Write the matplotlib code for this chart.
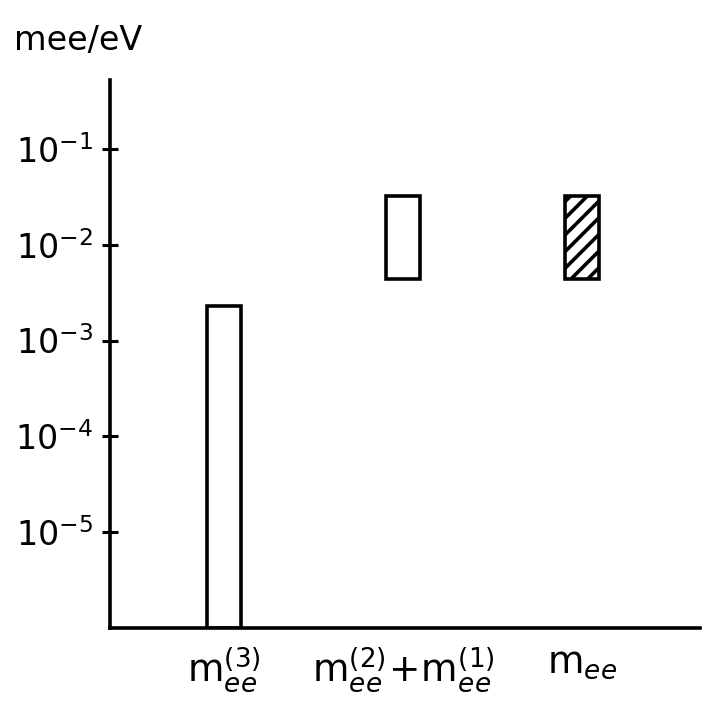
import numpy as np
import matplotlib.pyplot as plt

# effective Majorana mass ranges (eV), log scale
labels = [r'$\mathrm{m}_{ee}^{(3)}$', r'$\mathrm{m}_{ee}^{(2)}\!+\!\mathrm{m}_{ee}^{(1)}$', r'$\mathrm{m}_{ee}$']
bar_low = [1e-6, 4.4e-3, 4.4e-3]
bar_high = [2.3e-3, 3.2e-2, 3.2e-2]
hatches = ['', '', '//']
ytick_vals = [1e-1, 1e-2, 1e-3, 1e-4, 1e-5]
ytick_labels = [r'$10^{-1}$', r'$10^{-2}$', r'$10^{-3}$', r'$10^{-4}$', r'$10^{-5}$']

plt.rcParams['mathtext.fontset'] = 'dejavusans'
plt.rcParams['hatch.linewidth'] = 2.6

fig = plt.figure(figsize=(7.13, 7.18), dpi=100)
ax = fig.add_axes([0.154, 0.125, 0.828, 0.764])

x = np.arange(len(labels))
heights = np.array(bar_high) - np.array(bar_low)
for xi, lo, h, hat in zip(x, bar_low, heights, hatches):
    ax.bar(xi, h, bottom=lo, width=0.19, facecolor='white', edgecolor='black',
           linewidth=2.6, hatch=hat)

ax.set_yscale('log')
ax.set_ylim(1e-6, 10 ** -0.28)
ax.set_xlim(-0.637, 2.66)

ax.spines['top'].set_visible(False)
ax.spines['right'].set_visible(False)
ax.spines['left'].set_linewidth(2.6)
ax.spines['bottom'].set_linewidth(2.6)

ax.set_yticks(ytick_vals)
ax.set_yticklabels(ytick_labels, fontsize=24)
ax.yaxis.set_minor_locator(plt.NullLocator())
ax.tick_params(axis='y', direction='inout', length=12, width=2.2, pad=6)

ax.set_xticks(x)
ax.set_xticklabels(labels, fontsize=27)
ax.tick_params(axis='x', length=0, pad=12)

fig.text(0.02, 0.92, 'mee/eV', fontsize=24, ha='left', va='bottom')

fig.savefig('out.png', dpi=100)
